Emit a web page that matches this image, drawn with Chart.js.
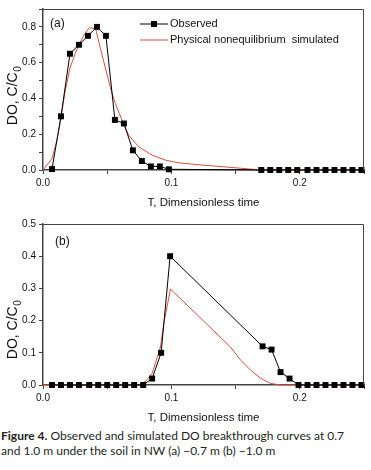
<!DOCTYPE html>
<html>
<head>
<meta charset="utf-8">
<script src="https://cdn.jsdelivr.net/npm/chart.js@4.4.1/dist/chart.umd.min.js"></script>
<style>
  html, body { margin: 0; padding: 0; background: #fff; }
  body { width: 371px; height: 470px; position: relative; overflow: hidden; }
  .box { position: absolute; left: 0; width: 371px; height: 212px; }
  #boxA { top: 0; }
  #boxB { top: 215px; }
  #caption { position: absolute; left: 1px; top: 428px; width: 370px; font: 12px Lato, sans-serif; line-height: 15px; color: #231f20; white-space: nowrap; }
  #caption b { font-weight: bold; }
</style>
</head>
<body>
<div class="box" id="boxA"><canvas id="chartA" width="371" height="212"></canvas></div>
<div class="box" id="boxB"><canvas id="chartB" width="371" height="212"></canvas></div>
<div id="caption"><b>Figure 4.</b> Observed and simulated DO breakthrough curves at 0.7<br>and 1.0 m under the soil in NW (a) &minus;0.7 m (b) &minus;1.0 m</div>

<script>
// (a) -0.7 m
const obsA_T = [0.007, 0.014, 0.021, 0.028, 0.035, 0.042, 0.049, 0.056, 0.063, 0.070, 0.077, 0.084, 0.091, 0.098,
                0.170, 0.177, 0.184, 0.191, 0.198, 0.206, 0.213, 0.220, 0.227, 0.234, 0.241, 0.248];
const obsA_C = [0.005, 0.30, 0.65, 0.70, 0.75, 0.80, 0.75, 0.28, 0.26, 0.11, 0.05, 0.02, 0.02, 0.004,
                0, 0, 0, 0, 0, 0, 0, 0, 0, 0, 0, 0];
const simA_T = [0, 0.007, 0.011, 0.0135, 0.017, 0.021, 0.025, 0.028, 0.032, 0.036, 0.041, 0.0447, 0.0486, 0.0525,
                0.0564, 0.0616, 0.0668, 0.0746, 0.085, 0.0954, 0.106, 0.123, 0.149, 0.170, 0.25];
const simA_C = [0, 0.064, 0.17, 0.27, 0.43, 0.57, 0.65, 0.70, 0.755, 0.795, 0.79, 0.68, 0.57, 0.46,
                0.37, 0.277, 0.194, 0.129, 0.083, 0.055, 0.04, 0.028, 0.013, 0, 0];

// (b) -1.0 m
const obsB_T = [0.007, 0.014, 0.021, 0.028, 0.036, 0.043, 0.050, 0.057, 0.064, 0.071, 0.078, 0.085, 0.092, 0.099,
                0.171, 0.178, 0.185, 0.192, 0.199, 0.206, 0.213, 0.220, 0.227, 0.234, 0.241, 0.248];
const obsB_C = [0, 0, 0, 0, 0, 0, 0, 0, 0, 0, 0, 0.02, 0.10, 0.40,
                0.12, 0.11, 0.04, 0.02, 0, 0, 0, 0, 0, 0, 0, 0];
const simB_T = [0, 0.075, 0.080, 0.085, 0.0915, 0.094, 0.0993, 0.146, 0.154, 0.1617, 0.1695, 0.177, 0.185, 0.25];
const simB_C = [0, 0, 0.012, 0.036, 0.118, 0.19, 0.298, 0.118, 0.077, 0.046, 0.021, 0.005, 0, 0];

// tick labels
const xLabels = [0, 0.1, 0.2];
const yLabelsA = [0, 0.2, 0.4, 0.6, 0.8];
const yLabelsB = [0, 0.1, 0.2, 0.3, 0.4, 0.5];

const seriesNames = ['Observed', 'Physical nonequilibrium  simulated'];

const AXIS = '#444';
const RED = '#d8503f';
const FONT = '"Liberation Sans", Arial, sans-serif';

function pts(xs, ys) {
  return xs.map((x, i) => ({ x: x, y: ys[i] }));
}

function hasLabel(list, v) {
  return list.some(l => Math.abs(l - v) < 1e-6);
}

// frame, panel letter, y title, legend
const decor = {
  id: 'decor',
  afterDraw(chart, args, opts) {
    const ctx = chart.ctx;
    const a = chart.chartArea;
    ctx.save();
    ctx.strokeStyle = AXIS;
    ctx.lineWidth = 1;
    ctx.beginPath();
    ctx.moveTo(a.left, a.top + 0.5);
    ctx.lineTo(a.right - 0.5, a.top + 0.5);
    ctx.lineTo(a.right - 0.5, a.bottom);
    ctx.stroke();

    ctx.fillStyle = '#111';
    ctx.font = '12px ' + FONT;
    ctx.textBaseline = 'middle';
    ctx.textAlign = 'left';
    ctx.fillText(opts.panel, opts.panelX, opts.panelY);

    // y axis title with subscript
    ctx.save();
    ctx.translate(12, opts.titleY);
    ctx.rotate(-Math.PI / 2);
    ctx.textBaseline = 'alphabetic';
    const main = 'DO, C/C';
    ctx.font = '14px ' + FONT;
    const w1 = ctx.measureText(main).width;
    ctx.font = '10px ' + FONT;
    const w2 = ctx.measureText('0').width;
    const x0 = -(w1 + w2) / 2;
    ctx.font = '14px ' + FONT;
    ctx.fillText(main, x0, 5);
    ctx.font = '10px ' + FONT;
    ctx.fillText('0', x0 + w1 + 0.5, 8.5);
    ctx.restore();

    if (opts.legend) {
      const lx = 140, ly = [24, 40];
      chart.data.datasets.forEach((ds, i) => {
        ctx.strokeStyle = ds.borderColor;
        ctx.lineWidth = ds.borderWidth;
        ctx.beginPath();
        ctx.moveTo(lx, ly[i]);
        ctx.lineTo(lx + 28, ly[i]);
        ctx.stroke();
        if (ds.pointRadius > 0) {
          ctx.fillStyle = ds.pointBackgroundColor;
          ctx.fillRect(lx + 11, ly[i] - 3, 6, 6);
        }
        ctx.fillStyle = '#111';
        ctx.font = '11px ' + FONT;
        ctx.textBaseline = 'middle';
        ctx.fillText(ds.label, lx + 30, ly[i]);
      });
    }
    ctx.restore();
  }
};

function makeChart(id, obsT, obsC, simT, simC, yMax, yLabels, decorOpts) {
  return new Chart(document.getElementById(id), {
    type: 'scatter',
    data: {
      datasets: [
        {
          label: seriesNames[0],
          data: pts(obsT, obsC),
          showLine: true,
          borderColor: '#000',
          borderWidth: 1,
          pointStyle: 'rect',
          pointRadius: 4.2,
          pointBackgroundColor: '#000',
          pointBorderWidth: 0,
          clip: false
        },
        {
          label: seriesNames[1],
          data: pts(simT, simC),
          showLine: true,
          borderColor: RED,
          borderWidth: 1,
          pointRadius: 0,
          tension: 0,
          clip: false
        }
      ]
    },
    options: {
      responsive: false,
      animation: false,
      layout: { padding: { top: 7, right: 7, left: 0, bottom: 0 } },
      plugins: {
        legend: { display: false },
        tooltip: { enabled: false },
        decor: decorOpts
      },
      scales: {
        x: {
          type: 'linear',
          min: 0,
          max: 0.25,
          afterFit: s => { s.height = 42; },
          border: { color: AXIS, width: 1.5 },
          grid: { drawOnChartArea: false, tickLength: 4, color: AXIS },
          ticks: {
            stepSize: 0.05,
            autoSkip: false,
            maxRotation: 0,
            padding: 3,
            color: '#111',
            font: { family: FONT, size: 10 },
            callback: v => hasLabel(xLabels, v) ? v.toFixed(1) : ''
          },
          title: {
            display: true,
            text: 'T, Dimensionless time',
            color: '#111',
            font: { family: FONT, size: 11.5 },
            padding: { top: 0, bottom: 2 }
          }
        },
        y: {
          min: 0,
          max: yMax,
          afterFit: s => { s.width = 43; },
          border: { color: AXIS, width: 1.5 },
          grid: { drawOnChartArea: false, tickLength: 4, color: AXIS },
          ticks: {
            stepSize: 0.1,
            autoSkip: false,
            padding: 3,
            color: '#111',
            font: { family: FONT, size: 10 },
            callback: v => hasLabel(yLabels, v) ? v.toFixed(1) : ''
          }
        }
      }
    },
    plugins: [decor]
  });
}

makeChart('chartA', obsA_T, obsA_C, simA_T, simA_C, 0.9, yLabelsA,
  { panel: '(a)', panelX: 50, panelY: 24, titleY: 96, legend: true });
makeChart('chartB', obsB_T, obsB_C, simB_T, simB_C, 0.5, yLabelsB,
  { panel: '(b)', panelX: 55, panelY: 27, titleY: 115, legend: false });
</script>
</body>
</html>
